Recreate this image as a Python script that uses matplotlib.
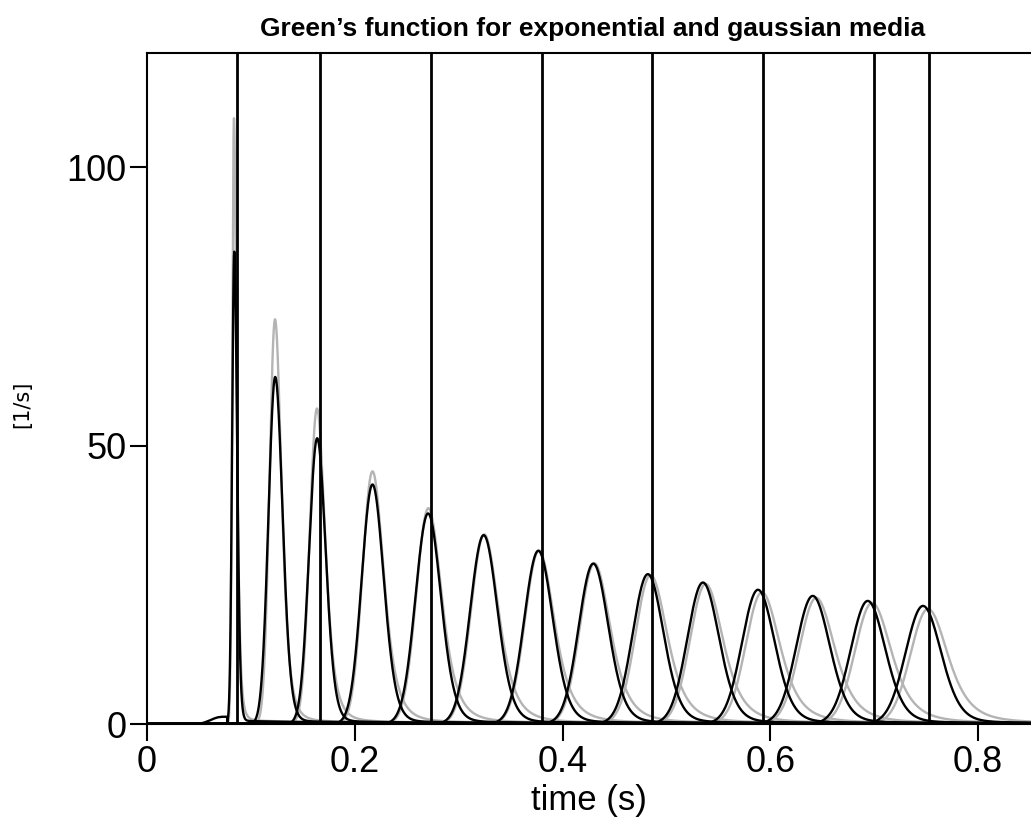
import numpy as np
import matplotlib
matplotlib.use("Agg")
import matplotlib.pyplot as plt

# ---- data ----
# peak arrival times (s) and heights (1/s), black = exponential medium, gray = gaussian medium
t_black = [0.0840, 0.1234, 0.1638, 0.2170, 0.2705, 0.3240, 0.3766, 0.4295, 0.4820, 0.5350, 0.5880, 0.6407, 0.6936, 0.7468]
h_black = [84.5, 62.0, 51.0, 42.7, 37.5, 33.6, 30.8, 28.5, 26.6, 25.1, 23.8, 22.7, 21.8, 20.9]
hwl_black = [0.0024, 0.0076, 0.0092, 0.0122, 0.0142, 0.0152, 0.0159, 0.0165, 0.0171, 0.0176, 0.0181, 0.0186, 0.0191, 0.0196]
hwr_black = [0.0032, 0.0084, 0.0096, 0.0128, 0.0146, 0.0157, 0.0165, 0.0172, 0.0178, 0.0184, 0.0190, 0.0195, 0.0200, 0.0205]

t_gray = [0.0837, 0.1232, 0.1636, 0.2170, 0.2708, 0.3245, 0.3772, 0.4305, 0.4846, 0.5376, 0.5918, 0.6440, 0.6978, 0.7516]
h_gray = [108.4, 72.3, 56.3, 45.0, 38.4, 33.7, 30.8, 28.5, 26.4, 24.8, 23.3, 22.3, 21.4, 20.3]
hwl_gray = [0.0019, 0.0062, 0.0082, 0.0113, 0.0136, 0.0148, 0.0157, 0.0163, 0.0170, 0.0176, 0.0182, 0.0188, 0.0193, 0.0198]
hwr_gray = [0.0030, 0.0074, 0.0092, 0.0128, 0.0150, 0.0163, 0.0173, 0.0181, 0.0189, 0.0197, 0.0204, 0.0211, 0.0218, 0.0225]

# small coda level following each pulse (1/s)
coda_black = 0.6
coda_gray = 0.7

# precursor before the first black pulse
pre_t = [0.050, 0.055, 0.060, 0.064, 0.068, 0.072, 0.0772]
pre_y = [0.0, 0.25, 0.6, 0.95, 1.2, 1.3, 1.3]

# vertical marker lines (s)
vlines = [0.0862, 0.1668, 0.2734, 0.3801, 0.4865, 0.5929, 0.6998, 0.7525]

xticks = [0, 0.2, 0.4, 0.6, 0.8]
xticklabels = ["0", "0.2", "0.4", "0.6", "0.8"]
yticks = [0, 50, 100]
yticklabels = ["0", "50", "100"]

title = "Green\u2019s function for exponential and gaussian media"
xlabel = "time (s)"
ylabel = "[1/s]"

# ---- figure ----
plt.rcParams['font.family'] = ['Liberation Sans', 'DejaVu Sans']
fig = plt.figure(figsize=(10.31, 8.21), dpi=100)
ax = fig.add_axes([147 / 1031, 1 - 724 / 821, 1 - 147 / 1031, (724 - 53) / 821])

t = np.linspace(0.0, 0.86, 6000)


def pulse(c, h, hwl, hwr, nu, coda):
    sl = hwl / np.sqrt(2 * np.log(2))
    sr = hwr / np.sqrt(2 * nu * (2 ** (1 / nu) - 1))
    dt = t - c
    left = np.exp(-0.5 * (dt / sl) ** 2)
    right = (1 + (dt / sr) ** 2 / (2 * nu)) ** (-nu)
    y = h * np.where(dt < 0, left, right)
    onset = 1 / (1 + np.exp(-np.clip(dt / (0.6 * sr), -60, 60)))
    y = y + coda * onset * np.exp(-np.clip(dt, 0, None) / 0.12)
    return y


for c, h, a, b in zip(t_gray, h_gray, hwl_gray, hwr_gray):
    ax.plot(t, pulse(c, h, a, b, 2.5, coda_gray), color="#b4b4b4", lw=1.7, zorder=2)

for i, (c, h, a, b) in enumerate(zip(t_black, h_black, hwl_black, hwr_black)):
    y = pulse(c, h, a, b, 8.0, coda_black)
    if i == 0:
        y = np.where(t < pre_t[-1], np.interp(t, pre_t, pre_y, left=0.0, right=0.0), y)
    ax.plot(t, y, color="black", lw=1.7, zorder=3)

for v in vlines:
    ax.axvline(v, color="black", lw=2.0, zorder=4)

ax.set_xlim(0, (1031 - 146) / 1040)
ax.set_ylim(0, (724 - 53) / 5.57)
ax.set_xticks(xticks)
ax.set_xticklabels(xticklabels)
ax.set_yticks(yticks)
ax.set_yticklabels(yticklabels)
ax.tick_params(direction="out", length=12, width=1.5, labelsize=26, pad=3)
for s in ["left", "bottom", "top"]:
    ax.spines[s].set_linewidth(1.5)
ax.spines["right"].set_visible(False)

ax.set_xlabel(xlabel, fontsize=25, labelpad=3)
fig.text(22 / 1031, 1 - 404 / 821, ylabel, rotation=90, fontsize=15,
         family="DejaVu Sans", ha="center", va="center")
fig.text(593 / 1031, 1 - 29 / 821, title, fontsize=19, fontweight="bold",
         ha="center", va="center")

fig.savefig("out.png", dpi=100)
